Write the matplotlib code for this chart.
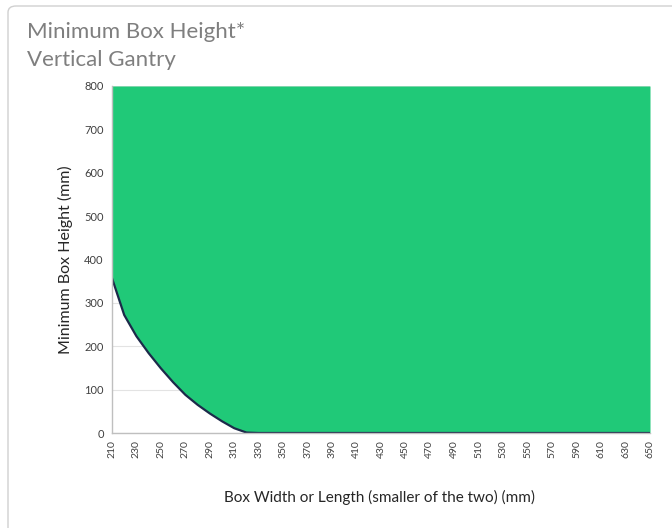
import matplotlib.pyplot as plt
from matplotlib.patches import FancyBboxPatch

# box width or length (mm), every 10 mm
widths = [210, 220, 230, 240, 250, 260, 270, 280, 290, 300, 310, 320, 330, 340,
          350, 360, 370, 380, 390, 400, 410, 420, 430, 440, 450, 460, 470, 480,
          490, 500, 510, 520, 530, 540, 550, 560, 570, 580, 590, 600, 610, 620,
          630, 640, 650]
# minimum box height curve (mm)
min_height = [357, 272, 223, 184, 149, 117, 88, 65, 45, 27, 11, 1, 0, 0,
              0, 0, 0, 0, 0, 0, 0, 0, 0, 0, 0, 0, 0, 0,
              0, 0, 0, 0, 0, 0, 0, 0, 0, 0, 0, 0, 0, 0,
              0, 0, 0]
y_max = 800
tick_labels = widths[::2]

plt.rcParams['font.family'] = ['Lato', 'DejaVu Sans']

fig = plt.figure(figsize=(6.72, 5.28), dpi=100)
border = FancyBboxPatch((8 / 672, -0.05), 1.0, 1 - 6 / 528 + 0.05,
                        boxstyle="round,pad=0,rounding_size=0.012",
                        transform=fig.transFigure, facecolor='white',
                        edgecolor='#d0d0d0', linewidth=1.0, zorder=-5)
fig.patches.append(border)

ax = fig.add_axes([112 / 672, 1 - 433 / 528, 538 / 672, 347 / 528])
ax.set_facecolor('none')
ax.set_zorder(2)

ax.fill_between(widths, min_height, y_max, color='#20c978', linewidth=0, zorder=2)
ax.plot(widths, min_height, color='#1c2a4a', linewidth=1.6, zorder=3,
        solid_joinstyle='round')

ax.set_xlim(210, 650)
ax.set_ylim(0, y_max)
ax.set_yticks(range(0, 801, 100))
ax.set_xticks(tick_labels)
ax.set_xticklabels([str(t) for t in tick_labels], rotation=90)
ax.tick_params(axis='y', length=0, labelsize=8, colors='#404040', pad=6)
ax.tick_params(axis='x', length=0, labelsize=7.5, colors='#404040', pad=5)
ax.grid(axis='y', color='#e3e3e3', linewidth=0.8, zorder=1)
ax.set_axisbelow(True)
for side in ['top', 'right']:
    ax.spines[side].set_visible(False)
for side in ['left', 'bottom']:
    ax.spines[side].set_color('#bfbfbf')
    ax.spines[side].set_linewidth(1.0)
    ax.spines[side].set_zorder(4)

ax.set_ylabel('Minimum Box Height (mm)', fontsize=11.5, color='#262626', labelpad=8)
fig.text(380 / 672, 1 - 497 / 528, 'Box Width or Length (smaller of the two) (mm)',
         fontsize=11, color='#262626', ha='center', va='center')

fig.text(27 / 672, 1 - 38 / 528, 'Minimum Box Height*', fontsize=16,
         color='#7f7f7f', ha='left', va='baseline')
fig.text(27 / 672, 1 - 66 / 528, 'Vertical Gantry', fontsize=16,
         color='#7f7f7f', ha='left', va='baseline')

fig.savefig('out.png', dpi=100)
